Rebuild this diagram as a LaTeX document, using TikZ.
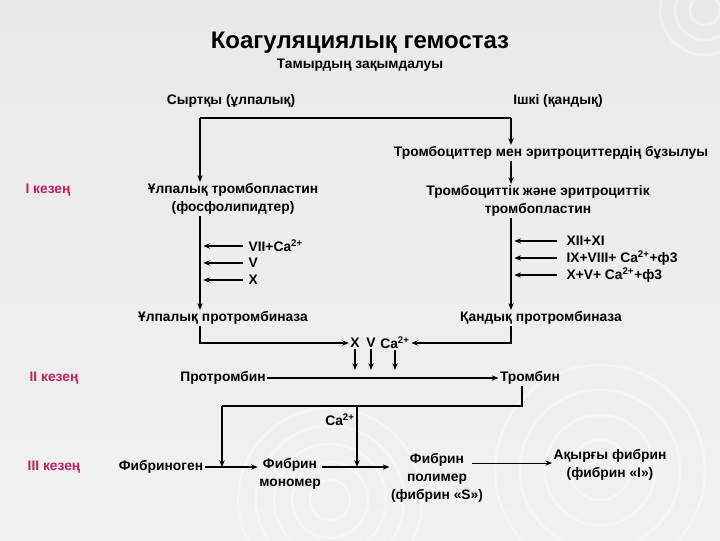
\documentclass[tikz,border=0pt]{standalone}
\usepackage{fontspec}
\setmainfont{Liberation Sans}
\usetikzlibrary{arrows.meta}
\definecolor{bgtop}{HTML}{E9E9E9}
\definecolor{bgbot}{HTML}{F1F1F1}
\definecolor{stage}{HTML}{C41E5A}
\begin{document}
\begin{tikzpicture}[x=0.75pt,y=-0.75pt,
  txt/.style={font=\bfseries\fontsize{10.35}{13.5}\selectfont, inner sep=1pt, align=center},
  stg/.style={font=\bfseries\fontsize{10.35}{13.5}\selectfont, text=stage, inner sep=1pt},
  arr/.style={line width=1pt, -{Stealth[length=5pt,width=4pt]}},
  arrthin/.style={line width=0.7pt, -{Stealth[length=5pt,width=4pt]}},
  ln/.style={line width=1pt},
  ring/.style={draw=white, opacity=0.4, line width=2pt}]
\useasboundingbox (0,0) rectangle (720,540);
\shade[top color=bgtop, bottom color=bgbot] (0,0) rectangle (720,540);
% faint decorative rings
\begin{scope}
\clip (0,0) rectangle (720,540);
\foreach \r in {20,38,56,74,92} {\draw[ring] (330,500) circle (\r);}
\foreach \r in {30,55,80,105} {\draw[ring] (600,470) circle (\r);}
\foreach \r in {15,30,45} {\draw[ring] (705,10) circle (\r);}
\end{scope}
% texts
\node[font=\bfseries\fontsize{18}{22}\selectfont, inner sep=1pt] (title) at (360,43) {Коагуляциялық гемостаз};
\node[txt] (sub) at (360,65) {Тамырдың зақымдалуы};
\node[txt] (syr) at (231,101) {Сыртқы (ұлпалық)};
\node[txt] (ish) at (558,101) {Ішкі (қандық)};
\node[txt] (bz) at (551,153) {Тромбоциттер мен эритроциттердің бұзылуы};
\node[stg] (k1) at (48,190) {I кезең};
\node[txt] (ulp) at (233,199) {Ұлпалық тромбопластин\\(фосфолипидтер)};
\node[txt] (tre) at (538,201) {Тромбоциттік және эритроциттік\\тромбопластин};
\node[txt, anchor=west] (l1) at (247,246) {VII+Ca\textsuperscript{2+}};
\node[txt, anchor=west] (l2) at (247,263) {V};
\node[txt, anchor=west] (l3) at (247,280) {X};
\node[txt, anchor=west] (r1) at (565,241) {XII+XI};
\node[txt, anchor=west] (r2) at (565,258) {IX+VIII+ Ca\textsuperscript{2+}+ф3};
\node[txt, anchor=west] (r3) at (565,275) {X+V+ Ca\textsuperscript{2+}+ф3};
\node[txt] (ulprot) at (223,318) {Ұлпалық протромбиназа};
\node[txt] (qprot) at (541,318) {Қандық протромбиназа};
\node[txt] (nx) at (355,343) {X};
\node[txt] (nv) at (371,343) {V};
\node[txt] (nca) at (395,343) {Ca\textsuperscript{2+}};
\node[stg] (k2) at (54,378) {II кезең};
\node[txt] (prot) at (223,378) {Протромбин};
\node[txt] (tromb) at (530,378) {Тромбин};
\node[txt] (ca2) at (340,420) {Ca\textsuperscript{2+}};
\node[stg] (k3) at (54,467) {III кезең};
\node[txt] (fg) at (161,467) {Фибриноген};
\node[txt] (mon) at (290,474) {Фибрин\\мономер};
\node[txt] (pol) at (437,478) {Фибрин\\полимер\\(фибрин «S»)};
\node[txt] (fin) at (610,465) {Ақырғы фибрин\\(фибрин «I»)};
% coordinates
\coordinate (tl) at (200,118);
\coordinate (tr) at (511,118);
\coordinate (bl) at (222,406);
\coordinate (br) at (522,406);
\coordinate (bc) at (357,406);
\coordinate (pa) at (472,463);
% connectors
\draw[ln] (tl) -- (tr);
\draw[arr] (tl) -- (tl |- ulp.north);
\draw[arr] (tr) -- (tr |- bz.north);
\draw[arr] (bz.south -| tr) -- (tre.north -| tr);
\draw[arr] (ulp.south -| tl) -- (ulprot.north -| tl);
\draw[arr] (tre.south -| tr) -- (qprot.north -| tr);
\draw[arr] ([xshift=-3pt]l1.west) -- ([xshift=2.5pt]l1.west -| tl);
\draw[arr] ([xshift=-3pt]l2.west) -- ([xshift=2.5pt]l2.west -| tl);
\draw[arr] ([xshift=-3pt]l3.west) -- ([xshift=2.5pt]l3.west -| tl);
\draw[arr] ([xshift=-6pt]r1.west) -- ([xshift=2.5pt]r1.west -| tr);
\draw[arr] ([xshift=-6pt]r2.west) -- ([xshift=2.5pt]r2.west -| tr);
\draw[arr] ([xshift=-6pt]r3.west) -- ([xshift=2.5pt]r3.west -| tr);
\draw[arr] (ulprot.south -| tl) |- (nx.west);
\draw[arr] (qprot.south -| tr) |- (nca.east);
\draw[arr] (nx.south) -- (nx.south |- prot.north);
\draw[arr] (nv.south) -- (nv.south |- prot.north);
\draw[arr] (nca.south) -- (nca.south |- prot.north);
\draw[arr] (prot.east) -- (tromb.west);
\draw[ln] (tromb.south -| br) -- (br) -- (bl);
\draw[arr] (bl) -- (bl |- fg.east);
\draw[arr] (bc) -- (bc |- fg.east);
\draw[arr] (fg.east) -- (fg.east -| mon.west);
\draw[arr] (mon.east |- fg.east) -- (pol.west |- fg.east);
\draw[arrthin] (pa) -- (fin.west |- pa);
\end{tikzpicture}
\end{document}
